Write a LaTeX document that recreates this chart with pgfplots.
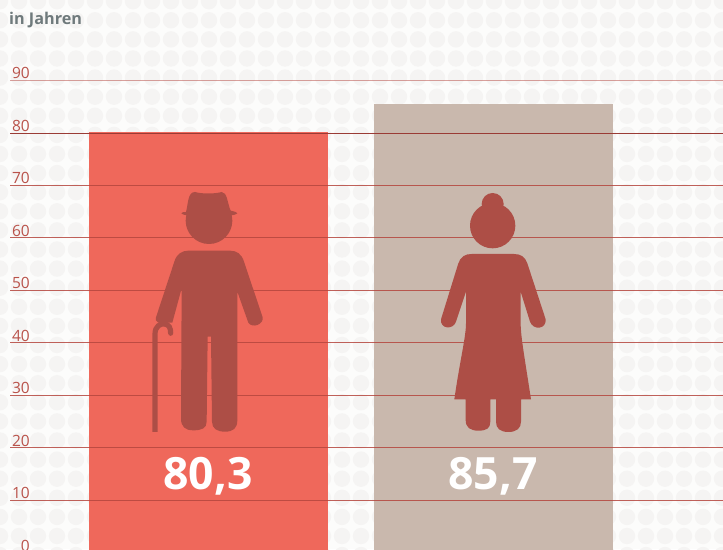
\documentclass[border=0pt]{standalone}
\usepackage{pgfplots}
\pgfplotsset{compat=1.18}
\usepackage{fontspec}
\setmainfont{Open Sans}
\definecolor{bgc}{HTML}{FCFCFB}
\definecolor{dotc}{HTML}{F5F4F3}
\definecolor{barred}{HTML}{EF685B}
\definecolor{bartan}{HTML}{C9B8AD}
\definecolor{gridc}{HTML}{B5463E}
\definecolor{figc}{HTML}{AD4E46}
\definecolor{labc}{HTML}{B9524A}
\definecolor{ttl}{HTML}{6F7A7C}
\begin{document}
\begin{tikzpicture}[x=1pt,y=1pt]
\path[use as bounding box] (0,0) rectangle (723,549);
\clip (0,0) rectangle (723,549);
\fill[bgc] (0,0) rectangle (723,549);
% background dot pattern
\foreach \i in {0,...,38}{
  \foreach \j in {0,...,29}{
    \fill[dotc] ({19*\i},{549-1.2-19.1*\j}) circle[radius=8.2];
  }
}
\begin{axis}[
  at={(0pt,-4pt)}, anchor=south west,
  scale only axis, width=723pt, height=553pt,
  xmin=0, xmax=723, ymin=0, ymax=105.333,
  axis lines=left, axis line style={draw=none},
  major tick length=0pt,
  xtick=\empty,
  ytick={0,10,...,90},
  /pgf/number format/assume math mode=true,
  yticklabel style={anchor=east, inner sep=0pt, xshift=30pt, yshift=7.2pt,
    font=\fontsize{15.5}{15.5}\selectfont, text=labc},
]
% bars
\addplot[draw=none, fill=barred] coordinates {(89,0)(89,80.2)(328,80.2)(328,0)} --cycle;
\addplot[draw=none, fill=bartan] coordinates {(374,0)(374,85.6)(613,85.6)(613,0)} --cycle;
% grid lines
\addplot[gridc, line width=1pt, opacity=.85] coordinates {(10,10)(723,10)};
\addplot[gridc, line width=1pt, opacity=.85] coordinates {(10,20)(723,20)};
\addplot[gridc, line width=1pt, opacity=.85] coordinates {(10,30)(723,30)};
\addplot[gridc, line width=1pt, opacity=.85] coordinates {(10,40)(723,40)};
\addplot[gridc, line width=1pt, opacity=.85] coordinates {(10,50)(723,50)};
\addplot[gridc, line width=1pt, opacity=.85] coordinates {(10,60)(723,60)};
\addplot[gridc, line width=1pt, opacity=.85] coordinates {(10,70)(723,70)};
\addplot[gridc!85!black, line width=.9pt] coordinates {(10,80)(723,80)};
\addplot[gridc, line width=1.8pt, opacity=.5] coordinates {(10,90)(723,90)};
\end{axis}
% title and values
\node[anchor=base west, inner sep=0pt, text=ttl, font=\fontsize{16.2}{16.2}\selectfont\bfseries] at (9,{549-24.5}) {in Jahren};
\node[anchor=base, inner sep=0pt, text=white, font=\fontsize{44.5}{44.5}\selectfont\bfseries] at (208,{549-490}) {80,3};
\node[anchor=base, inner sep=0pt, text=white, font=\fontsize{44.5}{44.5}\selectfont\bfseries] at (493,{549-490}) {85,7};
% man pictogram
\begin{scope}[xshift=140pt, yshift=369pt, x=0.33333pt, y=-0.33333pt]
  \fill[figc] (207,122) circle[radius=70];
  \fill[figc] (138,96) .. controls (145,70) and (143,36) .. (165,36)
     .. controls (185,42) and (225,42) .. (245,36)
     .. controls (262,36) and (262,70) .. (272,92)
     .. controls (285,95) and (292,97) .. (292,100)
     .. controls (285,107) and (265,107) .. (240,107) -- (170,107)
     .. controls (150,107) and (130,107) .. (124,100)
     .. controls (124,97) and (130,96) .. (138,96) -- cycle;
  \fill[figc] (48,412) -- (103,245) .. controls (110,222) and (125,212) .. (145,212)
     -- (270,212) .. controls (290,212) and (305,222) .. (312,245)
     -- (368,412) .. controls (372,432) and (338,447) .. (325,428)
     -- (292,335) -- (292,720) .. controls (292,745) and (280,755) .. (255,755)
     .. controls (230,755) and (216,745) .. (216,725) -- (213,470) -- (203,470) -- (200,725)
     .. controls (200,745) and (185,751) .. (160,751)
     .. controls (135,751) and (123,740) .. (123,715) -- (125,325) -- (97,428)
     -- (55,428) .. controls (47,425) and (46,418) .. (48,412) -- cycle;
  \draw[figc, line width=5.2pt] (45,756) -- (45,462) .. controls (45,438) and (62,430) .. (74,432)
     .. controls (88,434) and (92,445) .. (92,460);
  \fill[figc] (92,460) circle[radius=7.5];
\end{scope}
% woman pictogram
\begin{scope}[xshift=430pt, yshift=369pt, x=0.33333pt, y=-0.33333pt]
  \fill[figc] (188,137) circle[radius=68];
  \fill[figc] (188,72) circle[radius=33];
  \fill[figc] (33,418) -- (85,250) .. controls (92,230) and (105,222) .. (125,222)
     -- (252,222) .. controls (272,222) and (285,230) .. (292,250)
     -- (347,418) .. controls (350,448) and (310,452) .. (300,425)
     -- (272,335) -- (272,430) .. controls (272,470) and (285,540) .. (303,658) -- (273,658) -- (273,725)
     .. controls (273,745) and (260,756) .. (235,756)
     .. controls (210,756) and (198,745) .. (198,725) -- (198,658) -- (181,658) -- (181,725)
     .. controls (181,745) and (170,752) .. (145,752)
     .. controls (120,752) and (107,742) .. (107,720) -- (107,658)
     -- (73,658) .. controls (90,540) and (108,470) .. (108,430) -- (108,335) -- (78,425)
     .. controls (70,450) and (30,448) .. (33,418) -- cycle;
\end{scope}
\end{tikzpicture}
\end{document}
